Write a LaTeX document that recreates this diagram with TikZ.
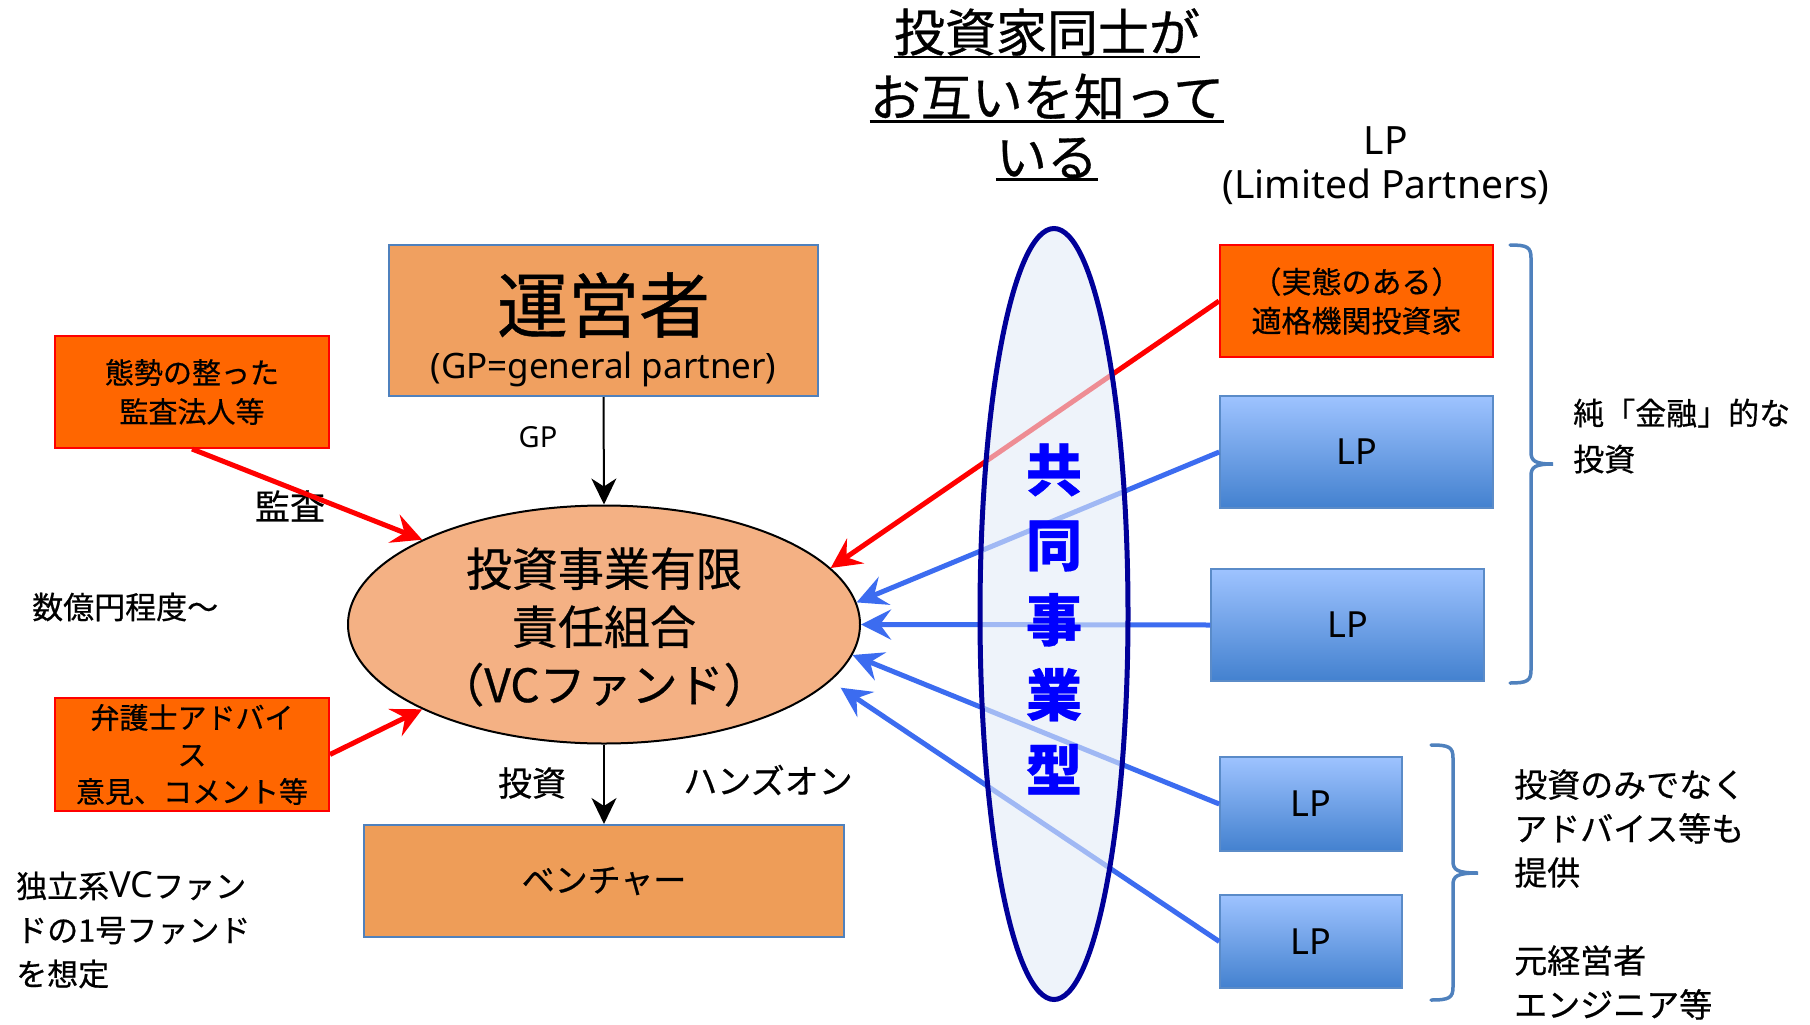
\documentclass[tikz,border=0pt]{standalone}
\usepackage{fontspec}
\setmainfont{Noto Sans CJK JP}[FakeBold=0.6]
\newfontfamily\latf{Noto Sans}
\usetikzlibrary{arrows.meta,shapes.geometric}
\newcommand\myfs[2]{\fontsize{#1}{#2}\selectfont}
\definecolor{boxOrange}{HTML}{FF6600}
\definecolor{texOrange}{HTML}{F0A060}
\definecolor{fundFill}{HTML}{F4B184}
\definecolor{ventFill}{HTML}{EE9D58}
\definecolor{frameBlue}{HTML}{4F81BD}
\definecolor{lpTop}{HTML}{9EC3FF}
\definecolor{lpBot}{HTML}{4381CF}
\definecolor{lpFrame}{HTML}{5A8BC8}
\definecolor{arrowBlue}{HTML}{3C6CF0}
\definecolor{jointFill}{HTML}{E3ECF8}
\definecolor{jointLine}{HTML}{000099}
\definecolor{jointText}{HTML}{0000FF}
\begin{document}
\begin{tikzpicture}[x=1pt,y=-1pt,
  txt/.style={inner sep=0pt},
  texbox/.style={rectangle, draw=frameBlue, line width=2pt, inner sep=0pt},
  redbox/.style={rectangle, draw=red, line width=2pt, fill=boxOrange, inner sep=0pt, align=center},
  lpbox/.style={rectangle, draw=lpFrame, line width=1.5pt, top color=lpTop, bottom color=lpBot, inner sep=0pt, font=\latf\myfs{36}{36}},
  redarrow/.style={draw=red, line width=5pt, -{Stealth[length=30pt,width=30pt,inset=11pt]}},
  bluearrow/.style={draw=arrowBlue, line width=5pt, -{Stealth[length=30pt,width=30pt,inset=11pt]}},
  blackarrow/.style={draw=black, line width=2pt, -{Stealth[length=26pt,width=25pt,inset=8pt]}},
  bracestyle/.style={draw=frameBlue, line width=3.5pt, line cap=round}
]
\fill[white] (0,0) rectangle (1810,1025);
\useasboundingbox (0,0) rectangle (1810,1025);

% title
\node[txt, font=\myfs{51}{51}] (t1) at (1047,32) {投資家同士が};
\node[txt, font=\myfs{51}{51}] (t2) at (1047,97) {お互いを知って};
\node[txt, font=\myfs{51}{51}] (t3) at (1047,158) {いる};
\draw[line width=2.5pt] ([yshift=-1pt]t1.south west) -- ([yshift=-1pt]t1.south east);
\draw[line width=2.5pt] ([yshift=-1pt]t2.south west) -- ([yshift=-1pt]t2.south east);
\draw[line width=2.5pt] ([yshift=-1pt]t3.south west) -- ([yshift=-1pt]t3.south east);

% LP label
\node[txt, align=center, font=\latf\myfs{39}{44}] (lplabel) at (1386,166) {LP\\(Limited Partners)};

% GP box
\node[texbox, fill=texOrange, minimum width=429pt, minimum height=151pt] (run) at (603.5,320.5) {};
\node[txt, font=\myfs{71}{71}] (runT) at (603.5,305) {運営者};
\node[txt, font=\latf\myfs{35}{35}] (runS) at (603.5,369) {(GP=general partner)};

% fund
\node[ellipse, draw=black, line width=2pt, fill=fundFill, minimum width=512pt, minimum height=238pt, inner sep=0pt] (fund) at (604,624.5) {};
\node[txt, align=center, font=\myfs{46}{58}] (fundT) at (604,627) {投資事業有限\\責任組合\\（VCファンド）};

% venture
\node[texbox, fill=ventFill, minimum width=480pt, minimum height=112pt, font=\myfs{33}{33}] (venture) at (604,881) {ベンチャー};

% left boxes
\node[redbox, minimum width=274pt, minimum height=112pt, font=\myfs{29}{39}] (audit) at (192,392) {態勢の整った\\監査法人等};
\node[redbox, minimum width=274pt, minimum height=113pt, font=\myfs{29}{37}] (lawyer) at (192,754.5) {弁護士アドバイ\\ス\\意見、コメント等};

% right boxes
\node[redbox, minimum width=273pt, minimum height=112pt, font=\myfs{30}{39}] (qii) at (1356.5,301) {（実態のある）\\適格機関投資家};
\node[lpbox, minimum width=273pt, minimum height=112pt] (lp1) at (1356.5,452) {LP};
\node[lpbox, minimum width=273pt, minimum height=112pt] (lp2) at (1347.5,625) {LP};
\node[lpbox, minimum width=182pt, minimum height=94pt] (lp3) at (1311,804) {LP};
\node[lpbox, minimum width=182pt, minimum height=93pt] (lp4) at (1311,941.5) {LP};

% labels
\node[txt, font=\myfs{35}{35}] (auditL) at (290,506) {監査};
\node[txt, font=\latf\myfs{29}{29}] (gpL) at (538,437) {GP};
\node[txt, font=\myfs{34}{34}] (invL) at (532,783) {投資};
\node[txt, font=\myfs{34}{34}] (handsL) at (768,780) {ハンズオン};
\node[txt, anchor=west, font=\myfs{31}{31}] (amount) at (32,607) {数億円程度～};
\node[txt, anchor=west, align=left, font=\myfs{31}{44}] (indep) at (16,930) {独立系{\latf\myfs{36}{44}VC}ファン\\ドの1号ファンド\\を想定};
\node[txt, anchor=west, align=left, font=\myfs{31}{46}] (pure) at (1573,436) {純「金融」的な\\投資};
\node[txt, anchor=west, align=left, font=\myfs{33}{44}] (adv) at (1514,894.5) {投資のみでなく\\アドバイス等も\\提供\\\mbox{}\\元経営者\\エンジニア等};

% arrows
\draw[blackarrow] (run.south) -- (fund.north);
\draw[blackarrow] (fund.south) -- (venture.north);
\draw[redarrow] (audit.south) -- (fund.155);
\draw[redarrow] (lawyer.east) -- (fund.205);
\draw[redarrow] (qii.west) -- (fund.14);
\draw[bluearrow] (lp1.west) -- (fund.5);
\draw[bluearrow] (lp2.west) -- (fund.east);
\draw[bluearrow] (lp3.west) -- (fund.-7);
\draw[bluearrow, shorten >=12pt] (lp4.west) -- (fund.-14);

% joint ellipse
\node[ellipse, draw=jointLine, line width=5pt, fill=jointFill, fill opacity=0.6, draw opacity=1, minimum width=148pt, minimum height=771pt, inner sep=0pt] (joint) at (1054,614) {};
\node[txt, align=center, text=jointText, font=\bfseries\myfs{56}{75}] (jointT) at (1054,619) {共\\同\\事\\業\\型};

% braces
\draw[bracestyle] (1510,245) .. controls (1527,245) and (1531,247) .. (1531,258) -- (1531,452) .. controls (1531,461) and (1535,464) .. (1553,464) .. controls (1535,464) and (1531,467) .. (1531,476) -- (1531,670) .. controls (1531,681) and (1527,683) .. (1510,683);
\draw[bracestyle] (1431,745) .. controls (1449,745) and (1453,747) .. (1453,758) -- (1453,861) .. controls (1453,870) and (1457,873) .. (1478,873) .. controls (1457,873) and (1453,876) .. (1453,885) -- (1453,987) .. controls (1453,998) and (1449,1000) .. (1431,1000);
\end{tikzpicture}
\end{document}
